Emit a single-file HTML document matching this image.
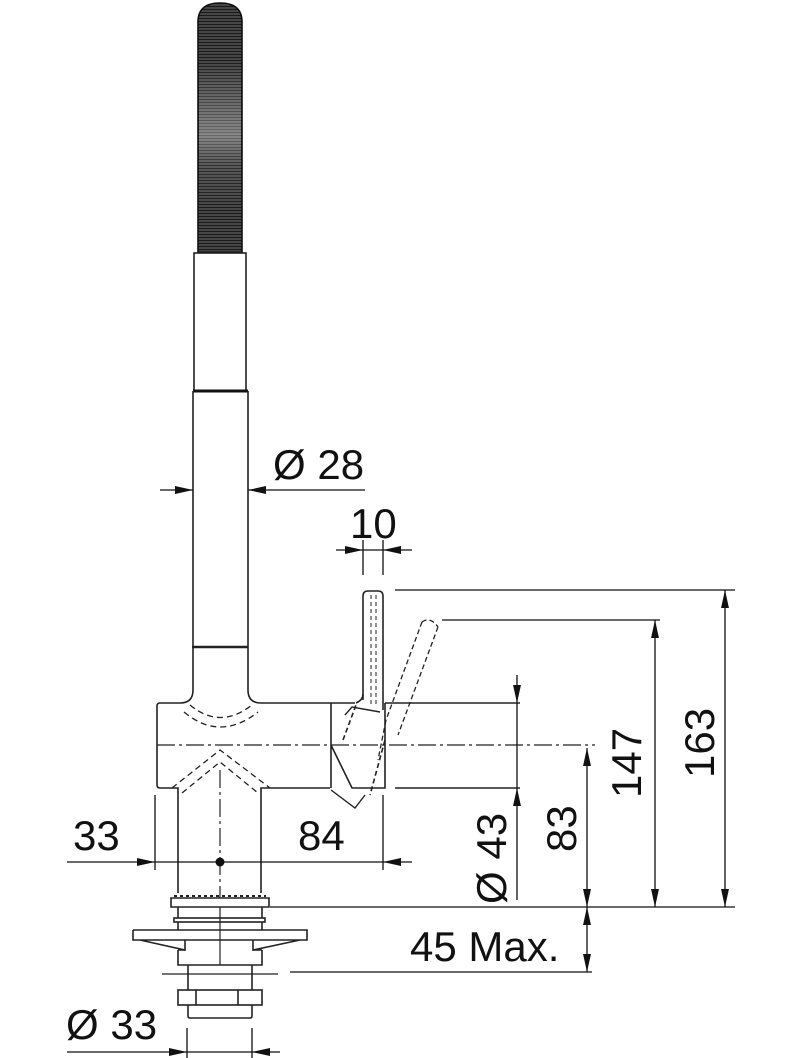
<!DOCTYPE html>
<html><head><meta charset="utf-8"><style>
html,body{margin:0;padding:0;background:#fff;}
svg{display:block;}
text{font-family:"Liberation Sans",Arial,sans-serif;fill:#111;}
</style></head><body>
<svg width="800" height="1058" viewBox="0 0 800 1058" xmlns="http://www.w3.org/2000/svg">
<defs>
<pattern id="coil" width="4" height="3" patternUnits="userSpaceOnUse">
<rect width="4" height="3" fill="#1a1a1a"/><rect y="1.6" width="4" height="0.8" fill="#888"/>
</pattern>
<linearGradient id="hl" x1="0" y1="0" x2="0" y2="1">
<stop offset="0" stop-color="#fff" stop-opacity="0"/>
<stop offset="0.5" stop-color="#fff" stop-opacity="0.35"/>
<stop offset="0.7" stop-color="#fff" stop-opacity="0.1"/>
<stop offset="1" stop-color="#fff" stop-opacity="0"/>
</linearGradient>
<marker id="a" viewBox="0 0 10 10" refX="10" refY="5" markerWidth="18" markerHeight="18" markerUnits="userSpaceOnUse" orient="auto-start-reverse"><path d="M0,2.8 L10,5 L0,7.2z" fill="#111"/></marker>
</defs>
<g stroke="#222" stroke-width="1.6" fill="none">
<!-- hose -->
<path d="M198,252 L198,22 Q198,3 220,3 Q242,3 242,22 L242,252 Z" fill="url(#coil)" stroke="#111"/>
<rect x="199" y="60" width="42" height="150" fill="url(#hl)" stroke="none"/>
<!-- spout -->
<rect x="194" y="253" width="52" height="138" fill="#fff"/>
<line x1="193" y1="391" x2="248" y2="391" stroke="#111" stroke-width="3"/>
<line x1="193" y1="391" x2="193" y2="690"/>
<line x1="248" y1="391" x2="248" y2="690"/>
<line x1="192" y1="647" x2="248" y2="647" stroke-width="2.5"/>
<!-- body -->
<path d="M193,690 Q193,703 180,703 L160,703 Q157,703 157,706 L157,785 Q157,788 160,788 L178,788 L178,893"/>
<path d="M248,690 Q248,703 261,703 L355,703"/>
<path d="M261,893 L261,788 L330,788"/>
<line x1="157" y1="745" x2="595" y2="745" stroke-dasharray="18,4,3,4" stroke-width="1.2"/>
<path d="M190,705 Q220,730 252,705 M184,712 Q220,742 258,712" stroke-dasharray="6,4" stroke-width="1.3"/>
<path d="M172,788 L220,750 L270,788 M182,793 L220,762 L258,793" stroke-dasharray="6,4" stroke-width="1.3"/>
<line x1="220" y1="770" x2="220" y2="905" stroke-dasharray="18,4,3,4" stroke-width="1.2"/>
<!-- right cap -->
<path d="M331,703 L331,788 M331,745 L352,788 L385,788 L385,703" />
<path d="M345,715 L352,707 L380,712 M331,790 L355,808 L365,795" stroke-width="1.4"/>
<path d="M343,740 L356,705 M385,740 L370,795" stroke-dasharray="5,3"/>
<line x1="385" y1="703" x2="520" y2="703"/>
<line x1="395" y1="788" x2="520" y2="788"/>
<!-- lever vertical -->
<path d="M363,700 L363,596 Q363,591 368,591 L378,591 Q383,591 383,596 L383,710"/>
<path d="M371,595 L371,705 M376,595 L376,705" stroke-dasharray="4,3" stroke-width="1"/>
<path d="M356,703 Q363,700 363,694"/>
<!-- lever tilted (dashed) -->
<path d="M422,622 L386,720 M438,627 L398,735 M422,622 Q430,616 438,627 M386,720 L378,760" stroke-dasharray="5,3" stroke-width="1.3"/>
<!-- base -->
<path d="M171,898 L269,898 L269,907 L171,907 Z" fill="#fff"/>
<path d="M174,896 L266,896" stroke-dasharray="3,3" stroke-width="2"/>
<rect x="174" y="918" width="91" height="4"/>
<path d="M133,930 L307,930 L307,940 L300,940 L253,950 L253,940 M133,930 L133,940 L140,940 L185,950 L185,940 M140,940 L300,940"/>
<path d="M178,907 L178,918 M262,907 L262,918 M178,922 L178,930 M262,922 L262,930 M178,950 L178,965 L262,965 L262,950 M185,950 L178,950 M253,950 L262,950"/>
<line x1="220" y1="907" x2="220" y2="965" stroke-width="1.2"/>
<line x1="162" y1="974" x2="278" y2="974" stroke-width="1.2"/>
<path d="M188,965 L188,990 M252,965 L252,990"/>
<rect x="178" y="990" width="84" height="15"/>
<path d="M196,990 L196,1005 M238,990 L238,1005"/>
<path d="M188,1005 L188,1016 Q188,1018 190,1018 L250,1018 Q252,1018 252,1016 L252,1005"/>
</g>
<!-- dimensions -->
<g stroke="#111" stroke-width="1.3" fill="none">
<line x1="160" y1="490" x2="193" y2="490" marker-end="url(#a)"/>
<line x1="365" y1="490" x2="248" y2="490" marker-end="url(#a)"/>
<line x1="363" y1="540" x2="363" y2="575"/><line x1="383" y1="540" x2="383" y2="575"/>
<line x1="336" y1="550" x2="363" y2="550" marker-end="url(#a)"/>
<line x1="412" y1="550" x2="383" y2="550" marker-end="url(#a)"/>
<line x1="363" y1="550" x2="383" y2="550"/>
<line x1="395" y1="590" x2="735" y2="590"/>
<line x1="442" y1="620" x2="660" y2="620"/>
<line x1="270" y1="907" x2="735" y2="907"/>
<line x1="290" y1="972" x2="592" y2="972"/>
<line x1="517" y1="675" x2="517" y2="703" marker-end="url(#a)"/>
<line x1="517" y1="900" x2="517" y2="788" marker-end="url(#a)"/>
<line x1="517" y1="703" x2="517" y2="788"/>
<line x1="587" y1="748" x2="587" y2="907" marker-start="url(#a)" marker-end="url(#a)"/>
<line x1="655" y1="620" x2="655" y2="907" marker-start="url(#a)" marker-end="url(#a)"/>
<line x1="725" y1="590" x2="725" y2="907" marker-start="url(#a)" marker-end="url(#a)"/>
<line x1="587" y1="907" x2="587" y2="940" marker-start="url(#a)"/>
<line x1="587" y1="940" x2="587" y2="972" marker-end="url(#a)"/>
<line x1="155" y1="795" x2="155" y2="870"/><line x1="383" y1="795" x2="383" y2="870"/>
<line x1="67" y1="862" x2="155" y2="862" marker-end="url(#a)"/>
<line x1="155" y1="862" x2="383" y2="862"/>
<line x1="412" y1="862" x2="383" y2="862" marker-end="url(#a)"/>
<line x1="187" y1="1028" x2="187" y2="1058"/><line x1="252" y1="1028" x2="252" y2="1058"/>
<line x1="67" y1="1052" x2="187" y2="1052" marker-end="url(#a)"/>
<line x1="187" y1="1052" x2="252" y2="1052"/>
<line x1="280" y1="1052" x2="252" y2="1052" marker-end="url(#a)"/>
</g>
<circle cx="220" cy="862" r="4.5" fill="#111"/>
<g font-size="42">
<text x="273" y="479">Ø 28</text>
<text x="350" y="538">10</text>
<text x="73" y="850">33</text>
<text x="298" y="850">84</text>
<text x="410" y="961">45 Max.</text>
<text x="66" y="1039">Ø 33</text>
<text transform="translate(506,904) rotate(-90)">Ø 43</text>
<text transform="translate(576,852) rotate(-90)">83</text>
<text transform="translate(641,798) rotate(-90)">147</text>
<text transform="translate(714,778) rotate(-90)">163</text>
</g>
</svg>
</body></html>
